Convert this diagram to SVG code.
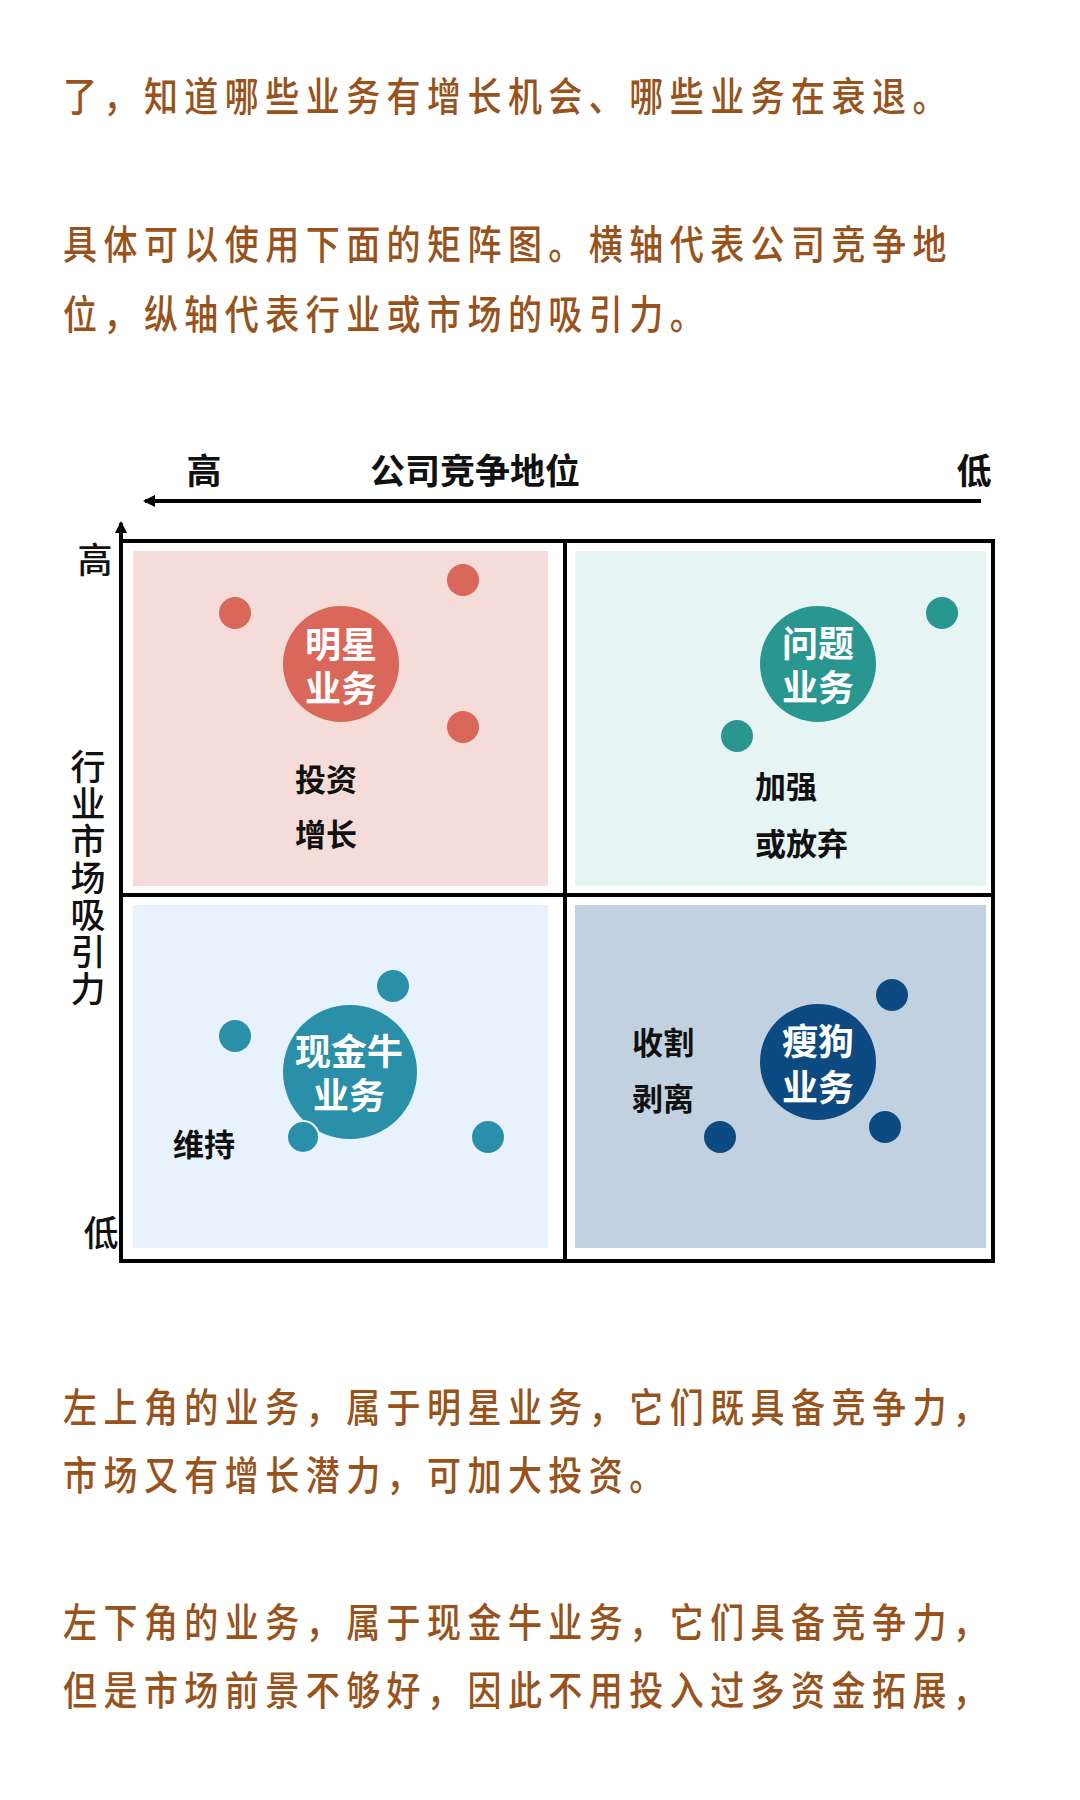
<svg xmlns="http://www.w3.org/2000/svg" width="1080" height="1800" viewBox="0 0 1080 1800">
<style>
.p{font-family:"Noto Sans CJK SC","Noto Sans",sans-serif;font-size:40px;font-weight:500;fill:#98531c;letter-spacing:7.6px;}
.ax{font-family:"Noto Sans CJK SC","Noto Sans",sans-serif;font-size:35px;font-weight:700;fill:#111;}
.axr{font-family:"Noto Sans CJK SC","Noto Sans",sans-serif;font-size:35px;font-weight:500;fill:#111;text-anchor:middle;}
.ct{font-family:"Noto Sans CJK SC","Noto Sans",sans-serif;font-size:36px;font-weight:700;fill:#fff;text-anchor:middle;}
.ac{font-family:"Noto Sans CJK SC","Noto Sans",sans-serif;font-size:31px;font-weight:700;fill:#111;}
.ln{stroke:#000;stroke-width:4;fill:none;}
</style>
<defs>
<marker id="ah" markerWidth="12" markerHeight="12" refX="10" refY="6" orient="auto" markerUnits="userSpaceOnUse">
<path d="M0,0 L12,6 L0,12 Z" fill="#000"/>
</marker>
</defs>
<rect width="1080" height="1800" fill="#fff"/>

<g id="paragraph-top" transform="scale(0.85 1)">
<text class="p" x="74.1" y="94" dominant-baseline="central">了，知道哪些业务有增长机会、哪些业务在衰退。</text>
<text class="p" x="74.1" y="242" dominant-baseline="central">具体可以使用下面的矩阵图。横轴代表公司竞争地</text>
<text class="p" x="74.1" y="312" dominant-baseline="central">位，纵轴代表行业或市场的吸引力。</text>
</g>

<g id="quadrant-fills">
<rect x="133" y="551" width="415" height="335" fill="#f6dcd8"/>
<rect x="575" y="551" width="411" height="335" fill="#e6f4f3"/>
<rect x="133" y="905" width="415" height="343" fill="#e8f2fc"/>
<rect x="575" y="905" width="411" height="343" fill="#c1d1e0"/>
</g>

<g id="star">
<circle cx="235" cy="613" r="16" fill="#d9685a"/>
<circle cx="463" cy="580" r="16" fill="#d9685a"/>
<circle cx="463" cy="727" r="16" fill="#d9685a"/>
<circle cx="341" cy="664" r="58" fill="#d9685a"/>
<text class="ct" x="341" y="642" dominant-baseline="central">明星</text>
<text class="ct" x="341" y="686" dominant-baseline="central">业务</text>
<text class="ac" x="295" y="777" dominant-baseline="central">投资</text>
<text class="ac" x="295" y="832" dominant-baseline="central">增长</text>
</g>

<g id="question">
<circle cx="942" cy="613" r="16" fill="#2a9690"/>
<circle cx="737" cy="736" r="16" fill="#2a9690"/>
<circle cx="818" cy="664" r="58" fill="#2a9690"/>
<text class="ct" x="818" y="641" dominant-baseline="central">问题</text>
<text class="ct" x="818" y="685" dominant-baseline="central">业务</text>
<text class="ac" x="755" y="784" dominant-baseline="central">加强</text>
<text class="ac" x="755" y="841" dominant-baseline="central">或放弃</text>
</g>

<g id="cashcow">
<circle cx="393" cy="986" r="16" fill="#2a90a9"/>
<circle cx="235" cy="1036" r="16" fill="#2a90a9"/>
<circle cx="488" cy="1137" r="16" fill="#2a90a9"/>
<circle cx="350" cy="1072" r="67" fill="#2a90a9"/>
<circle cx="303" cy="1137" r="16" fill="#2a90a9" stroke="#e8f2fc" stroke-width="2"/>
<text class="ct" x="349" y="1049" dominant-baseline="central">现金牛</text>
<text class="ct" x="349" y="1093" dominant-baseline="central">业务</text>
<text class="ac" x="173" y="1142" dominant-baseline="central">维持</text>
</g>

<g id="dog">
<circle cx="892" cy="995" r="16" fill="#0d4a82"/>
<circle cx="720" cy="1137" r="16" fill="#0d4a82"/>
<circle cx="885" cy="1127" r="16" fill="#0d4a82"/>
<circle cx="818" cy="1062" r="58" fill="#0d4a82"/>
<text class="ct" x="818" y="1039" dominant-baseline="central">瘦狗</text>
<text class="ct" x="818" y="1085" dominant-baseline="central">业务</text>
<text class="ac" x="632" y="1040" dominant-baseline="central">收割</text>
<text class="ac" x="632" y="1096" dominant-baseline="central">剥离</text>
</g>

<g id="axis-labels">
<text class="ax" x="204" y="468" text-anchor="middle" dominant-baseline="central">高</text>
<text class="ax" x="475" y="468" text-anchor="middle" dominant-baseline="central">公司竞争地位</text>
<text class="ax" x="974" y="468" text-anchor="middle" dominant-baseline="central">低</text>
<text class="axr" x="95" y="557" dominant-baseline="central">高</text>
<text class="axr" x="101" y="1230" dominant-baseline="central">低</text>
<text x="88" y="749" writing-mode="vertical-rl" letter-spacing="2" font-family="'Noto Sans CJK SC','Noto Sans',sans-serif" font-size="35" font-weight="500" fill="#111">行业市场吸引力</text>
</g>

<g id="connectors">
<line class="ln" x1="981" y1="501" x2="145" y2="501" marker-end="url(#ah)"/>
<line class="ln" x1="121" y1="1262" x2="121" y2="523" marker-end="url(#ah)"/>
<rect class="ln" x="121" y="541" width="872" height="720"/>
<line class="ln" x1="565" y1="541" x2="565" y2="1261"/>
<line class="ln" x1="121" y1="895" x2="993" y2="895"/>
</g>

<g id="paragraph-bottom" transform="scale(0.85 1)">
<text class="p" x="74.1" y="1405" dominant-baseline="central">左上角的业务，属于明星业务，它们既具备竞争力，</text>
<text class="p" x="74.1" y="1473" dominant-baseline="central">市场又有增长潜力，可加大投资。</text>
<text class="p" x="74.1" y="1620" dominant-baseline="central">左下角的业务，属于现金牛业务，它们具备竞争力，</text>
<text class="p" x="74.1" y="1688" dominant-baseline="central">但是市场前景不够好，因此不用投入过多资金拓展，</text>
</g>
</svg>
